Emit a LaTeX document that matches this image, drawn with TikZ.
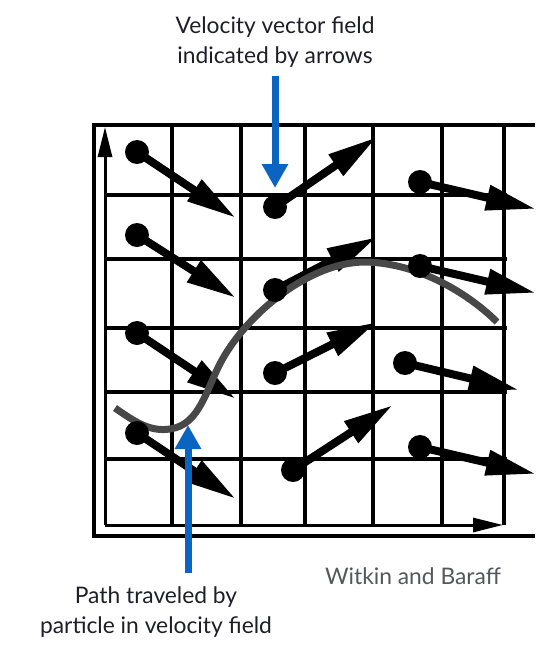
\documentclass[tikz,border=0pt]{standalone}
\usepackage{fontspec}
\setmainfont{Lato}
\usepackage{tikz}
\usetikzlibrary{arrows.meta, positioning}
\definecolor{ink}{HTML}{1E1E28}
\definecolor{creditgray}{HTML}{55575C}
\definecolor{callout}{HTML}{0A64C0}
\definecolor{trailgray}{HTML}{484848}

\begin{document}
\begin{tikzpicture}[
  x=1pt, y=-1pt,
  boxline/.style={line width=4pt},
  gridline/.style={line width=3.5pt},
  axis/.style={line width=3pt, -{Triangle[length=30pt, width=14pt]}},
  vel/.style={line width=8pt, -{Triangle[length=50pt, width=24pt]}},
  trail/.style={line width=7pt, color=trailgray},
  callarr/.style={line width=7pt, color=callout, -{Triangle[length=24pt, width=25pt]}},
  lbl/.style={font=\fontsize{22.8}{30}\selectfont, text=ink, align=center}
]
  \useasboundingbox (0,0) rectangle (552,662);

  % Frame and grid
  \draw[boxline] (535,125) -- (94,125) -- (94,536) -- (535,536);
  \foreach \gx in {172,241,305,373,442,504}
    \draw[gridline] (\gx,125) -- (\gx,525);
  \foreach \gy in {195,259,328,392,459}
    \draw[gridline] (105,\gy) -- (507,\gy);
  \draw[axis] (105,525) -- (105,127);
  \draw[axis] (105,525) -- (503,525);

  % Velocity field
  \foreach \n/\bx/\by/\tx/\ty in {1/137/152/236/218, 2/137/235/236/298,
      3/137/333/236/399, 4/137/433/236/499, 5/275/207/377/137,
      6/275/290/377/237, 7/275/373/377/322, 8/293/470/393/405,
      9/420/182/536/209, 10/420/266/536/293, 11/405/363/519/390,
      12/420/447/536/474} {
    \coordinate (b\n) at (\bx,\by);
    \coordinate (t\n) at (\tx,\ty);
    \draw[vel] (b\n) -- (t\n);
  }

  % Particle path
  \draw[trail] (115,408) .. controls (135,422) and (150,432) .. (170,429)
    .. controls (200,425) and (206,389) .. (222,360)
    .. controls (248,313) and (310,262) .. (365,262)
    .. controls (420,263) and (470,295) .. (497,322);

  \foreach \n in {1,...,12}
    \fill (b\n) circle (12pt);

  % Labels
  \node[lbl] (vellbl) at (275,42) {Velocity vector field\\indicated by arrows};
  \node[lbl] (pathlbl) at (156,612) {Path traveled by\\particle in velocity field};
  \node[lbl, text=creditgray, anchor=base] (credit) at (413,584) {Witkin and Baraff};

  \coordinate (velhit) at (275,188);
  \coordinate (pathhit) at (188,425);
  \draw[callarr] ([yshift=-5pt]velhit |- vellbl.south) -- (velhit);
  \draw[callarr] ([yshift=10pt]pathhit |- pathlbl.north) -- (pathhit);
\end{tikzpicture}
\end{document}
